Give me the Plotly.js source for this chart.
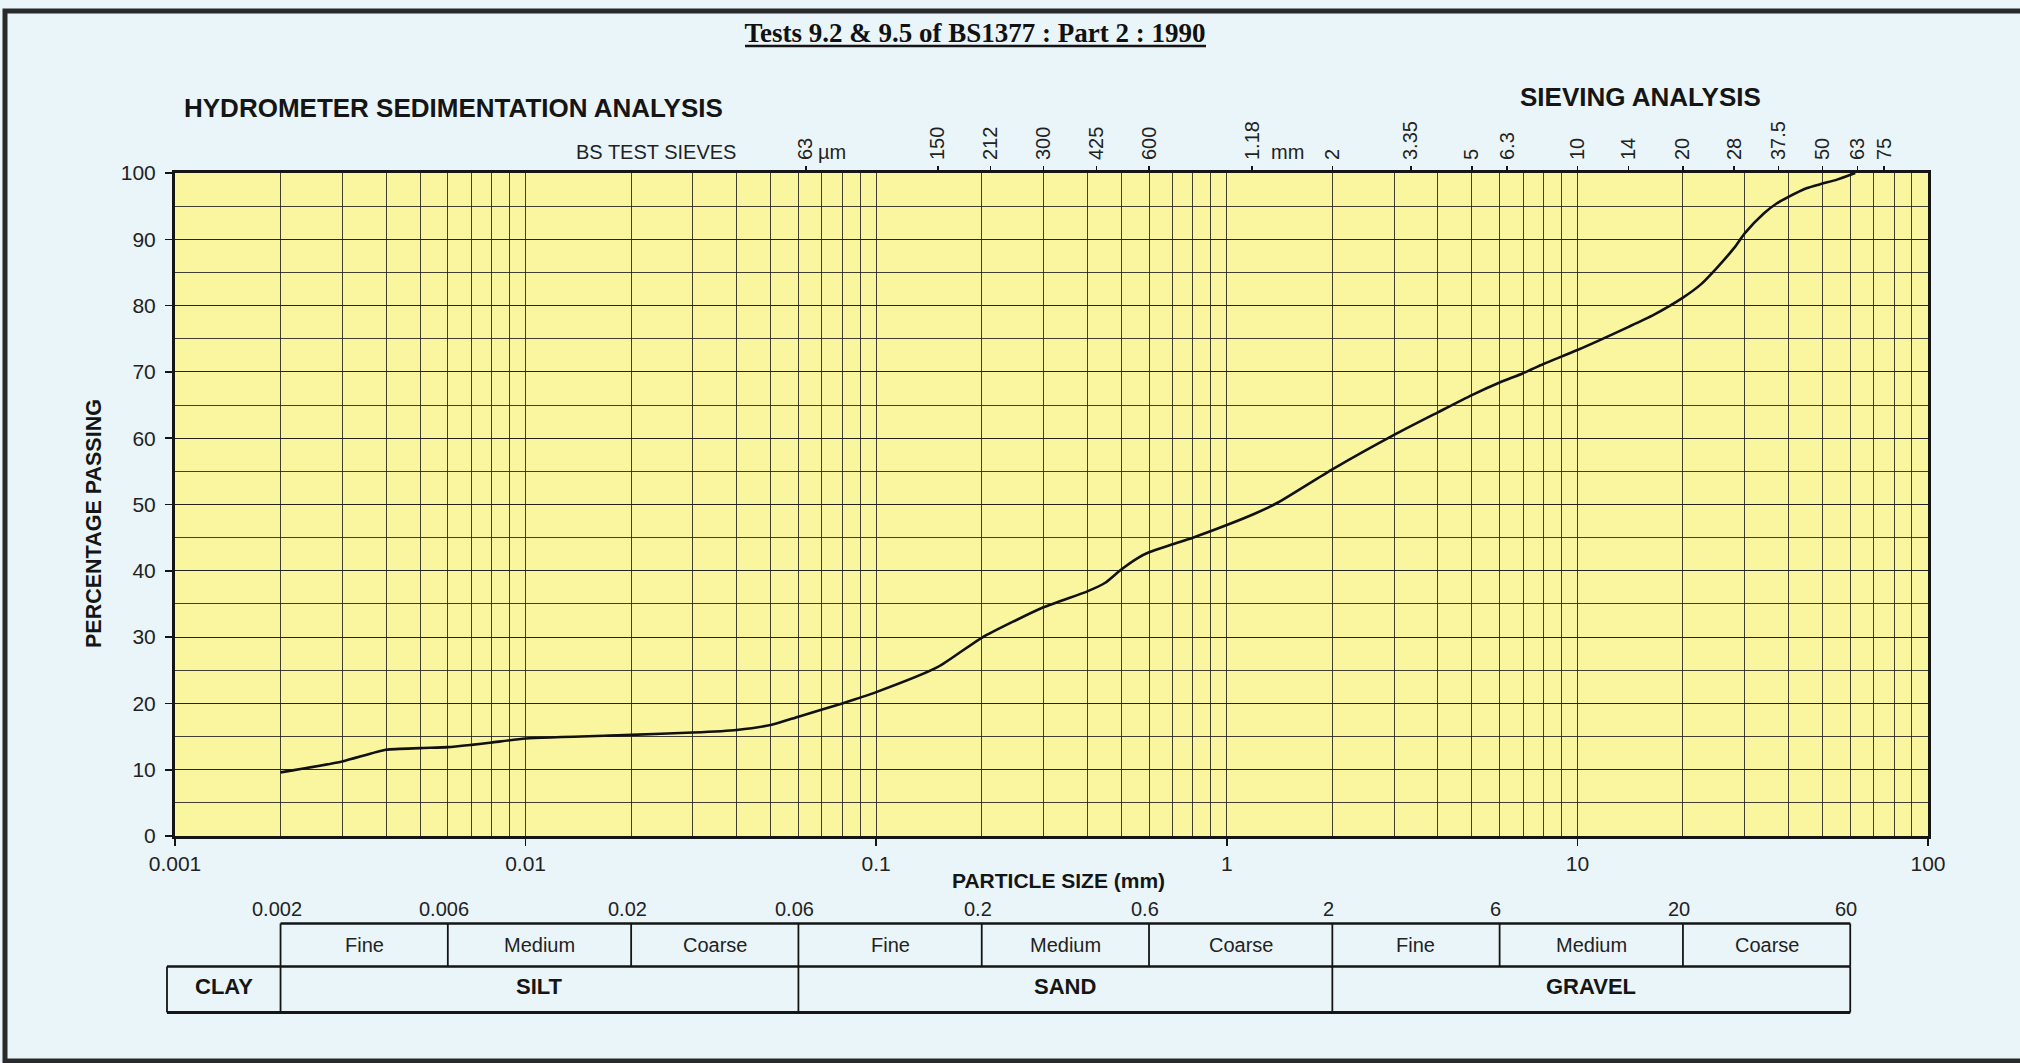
<!DOCTYPE html>
<html>
<head>
<meta charset="utf-8">
<script src="https://cdn.plot.ly/plotly-3.0.1.min.js"></script>
<style>
  html, body { margin: 0; padding: 0; background: #eaf5f9; }
  #chart { width: 2020px; height: 1063px; }
</style>
</head>
<body>
<div id="chart"></div>
<script>
// ---------- DATA ----------
const particleSize = [0.002, 0.003, 0.004, 0.005, 0.006, 0.007, 0.008, 0.01, 0.02, 0.03, 0.04, 0.05, 0.06, 0.08,
  0.1, 0.15, 0.2, 0.3, 0.4, 0.45, 0.5, 0.56, 0.6, 0.7, 0.8, 1, 1.2, 1.4, 2, 3, 4, 5, 6, 7, 8, 10,
  14, 16.5, 20, 22.5, 25, 28, 30, 34, 37, 40, 45, 50, 55, 62];
const percentPassing = [9.6, 11.25, 13.0, 13.25, 13.4, 13.75, 14.1, 14.7, 15.25, 15.6, 16.0, 16.75, 18.0, 20.0,
  21.7, 25.5, 29.9, 34.5, 36.9, 38.2, 40.2, 42.0, 42.8, 44.0, 45.0, 46.9, 48.6, 50.3, 55.3, 60.5, 63.9, 66.5, 68.4, 69.8, 71.2, 73.3,
  76.8, 78.6, 81.2, 83.2, 85.7, 88.7, 90.9, 93.9, 95.4, 96.4, 97.7, 98.4, 99.0, 100];

const decadeTicks = [0.001, 0.01, 0.1, 1, 10, 100];
const decadeLabels = ['0.001', '0.01', '0.1', '1', '10', '100'];
const yTicks = [0, 10, 20, 30, 40, 50, 60, 70, 80, 90, 100];

const sieveSizes = [0.063, 0.15, 0.212, 0.3, 0.425, 0.6, 1.18, 2, 3.35, 5, 6.3, 10, 14, 20, 28, 37.5, 50, 63, 75];
const sieveLabels = ['63', '150', '212', '300', '425', '600', '1.18', '2', '3.35', '5', '6.3', '10', '14', '20', '28', '37.5', '50', '63', '75'];

const classBoundaries = [0.002, 0.006, 0.02, 0.06, 0.2, 0.6, 2, 6, 20, 60];
const boundaryLabels = ['0.002', '0.006', '0.02', '0.06', '0.2', '0.6', '2', '6', '20', '60'];
const subClassLabels = ['Fine', 'Medium', 'Coarse', 'Fine', 'Medium', 'Coarse', 'Fine', 'Medium', 'Coarse'];
const mainClasses = ['CLAY', 'SILT', 'SAND', 'GRAVEL'];
const mainClassBounds = [[null, 0.002], [0.002, 0.06], [0.06, 2], [2, 60]];

// ---------- LAYOUT GEOMETRY ----------
const W = 2020, H = 1063;
const M = { l: 175, r: 92, t: 173, b: 227 };
const X_RANGE = [-3, 2];
const plotW = W - M.l - M.r, plotH = H - M.t - M.b;
const px = x => (x - M.l) / plotW;         // page pixel -> paper x
const py = y => (H - M.b - y) / plotH;     // page pixel -> paper y
const lx = v => (Math.log10(v) - X_RANGE[0]) / (X_RANGE[1] - X_RANGE[0]); // size -> paper x on the log axis
const tableLeftPaper = px(167);            // left edge of the CLAY cell, slightly left of the axis

// minor gridline values (2..9 in each decade)
const minorVals = [];
[0.001, 0.01, 0.1, 1, 10].forEach(d => { for (let k = 2; k <= 9; k++) minorVals.push(+(d * k).toPrecision(3)); });

const ink = '#151515';
const gridC = 'rgba(30,30,30,0.85)';
const sans = 'Liberation Sans, Arial, sans-serif';

const curve = {
  x: particleSize, y: percentPassing, type: 'scatter', mode: 'lines',
  line: { color: '#111', width: 2.6, shape: 'spline', smoothing: 0.6 },
  hoverinfo: 'x+y', showlegend: false
};
// the BS test sieve axis along the top (needs a trace so the axis is drawn; draws nothing itself)
const sieveAxisTrace = {
  x: sieveSizes, y: sieveSizes.map(() => null), xaxis: 'x2', yaxis: 'y',
  type: 'scatter', mode: 'none', hoverinfo: 'skip', showlegend: false
};

// ---------- TABLE SHAPES ----------
const rowTop = py(923.5), rowMid = py(966.5), rowBot = py(1012.5);
const shapes = [];
const line = (x0, x1, y0, y1, w) => shapes.push({ type: 'line', xref: 'paper', yref: 'paper', x0, x1, y0, y1, line: { color: ink, width: w } });
const last = classBoundaries[classBoundaries.length - 1];
line(lx(classBoundaries[0]), lx(last), rowTop, rowTop, 2.6);
line(tableLeftPaper, lx(last), rowMid, rowMid, 2.6);
line(tableLeftPaper, lx(last), rowBot, rowBot, 3);
classBoundaries.forEach(b => line(lx(b), lx(b), rowMid, rowTop, 1.8));
line(tableLeftPaper, tableLeftPaper, rowBot, rowMid, 1.8);
mainClassBounds.forEach(([a, b]) => line(lx(b), lx(b), rowBot, rowMid, 1.8));
// title underline
line(px(745), px(1206), py(46), py(46), 2.4);
// page frame
shapes.push({ type: 'rect', xref: 'paper', yref: 'paper', x0: px(5), x1: px(2080), y0: py(1061), y1: py(11),
  line: { color: '#2a2a2a', width: 5 }, fillcolor: 'rgba(0,0,0,0)', layer: 'below' });

// ---------- ANNOTATIONS ----------
const annotations = [];
const txt = (text, x, y, opts) => annotations.push(Object.assign({ text, x, y, showarrow: false, xanchor: 'center', yanchor: 'middle' }, opts));

txt('HYDROMETER SEDIMENTATION ANALYSIS', px(182), py(108), { xref: 'paper', yref: 'paper', xanchor: 'left', font: { family: sans, size: 26, color: ink, weight: 'bold' } });
txt('SIEVING ANALYSIS', px(1640), py(97), { xref: 'paper', yref: 'paper', font: { family: sans, size: 26, color: ink, weight: 'bold' } });
txt('BS TEST SIEVES', px(656), py(152), { xref: 'paper', yref: 'paper', font: { family: sans, size: 20, color: '#222' } });
txt('µm', px(832), py(152), { xref: 'paper', yref: 'paper', font: { family: sans, size: 20, color: '#222' } });
txt('mm', px(1287), py(152), { xref: 'paper', yref: 'paper', font: { family: sans, size: 20, color: '#222' } });
txt('<b>PERCENTAGE PASSING</b>', px(94), py(524), { xref: 'paper', yref: 'paper', textangle: -90, font: { family: sans, size: 21.5, color: ink } });
txt('<b>PARTICLE SIZE (mm)</b>', px(1058), py(880), { xref: 'paper', yref: 'paper', font: { family: sans, size: 21, color: ink } });

classBoundaries.forEach((b, i) => txt(boundaryLabels[i], Math.log10(b), py(909), { xref: 'x', yref: 'paper', xshift: -4, font: { family: sans, size: 20, color: '#222' } }));
subClassLabels.forEach((s, i) => {
  const mid = (Math.log10(classBoundaries[i]) + Math.log10(classBoundaries[i + 1])) / 2;
  txt(s, mid, py(945), { xref: 'x', yref: 'paper', font: { family: sans, size: 20, color: '#222' } });
});
mainClasses.forEach((c, i) => {
  const left = mainClassBounds[i][0] === null ? tableLeftPaper : lx(mainClassBounds[i][0]);
  const mid = (left + lx(mainClassBounds[i][1])) / 2;
  txt(c, mid, py(986), { xref: 'paper', yref: 'paper', font: { family: sans, size: 22, color: ink, weight: 'bold' } });
});

const layout = {
  width: W, height: H,
  margin: M,
  paper_bgcolor: '#eaf5f9',
  plot_bgcolor: '#faf6a0',
  showlegend: false,
  title: {
    text: '<b>Tests 9.2 &amp; 9.5 of BS1377 : Part 2 : 1990</b>',
    font: { family: 'Liberation Serif, Times New Roman, serif', size: 27, color: '#111' },
    x: 975 / W, xanchor: 'center', y: 1 - 33 / H, yanchor: 'middle'
  },
  xaxis: {
    type: 'log', range: X_RANGE, fixedrange: true,
    tickmode: 'array', tickvals: decadeTicks, ticktext: decadeLabels,
    ticks: 'outside', ticklen: 7, tickwidth: 1.6, tickcolor: ink,
    ticklabelstandoff: 0,
    tickfont: { family: sans, size: 21, color: '#222' },
    showgrid: true, gridcolor: gridC, gridwidth: 1,
    minor: { tickmode: 'array', tickvals: minorVals, showgrid: true, gridcolor: gridC, gridwidth: 1, ticks: '' },
    showline: true, linecolor: ink, linewidth: 3, mirror: true, zeroline: false
  },
  xaxis2: {
    type: 'log', range: X_RANGE, fixedrange: true, overlaying: 'x', side: 'top', anchor: 'y',
    tickmode: 'array', tickvals: sieveSizes, ticktext: sieveLabels, tickangle: -90,
    ticks: 'outside', ticklen: 6, tickwidth: 1.4, tickcolor: ink,
    ticklabelstandoff: 2,
    tickfont: { family: sans, size: 20, color: '#222' },
    showgrid: false, showline: false, zeroline: false
  },
  yaxis: {
    range: [0, 100], fixedrange: true,
    tickmode: 'array', tickvals: yTicks,
    ticks: 'outside', ticklen: 7, tickwidth: 1.6, tickcolor: ink,
    ticklabelstandoff: 5,
    tickfont: { family: sans, size: 21, color: '#222' },
    showgrid: true, gridcolor: gridC, gridwidth: 1,
    minor: { dtick: 5, showgrid: true, gridcolor: gridC, gridwidth: 1, ticks: '' },
    showline: true, linecolor: ink, linewidth: 3, mirror: true, zeroline: false
  },
  shapes, annotations
};

Plotly.newPlot('chart', [curve, sieveAxisTrace], layout, { displayModeBar: false, staticPlot: true });
</script>
</body>
</html>
